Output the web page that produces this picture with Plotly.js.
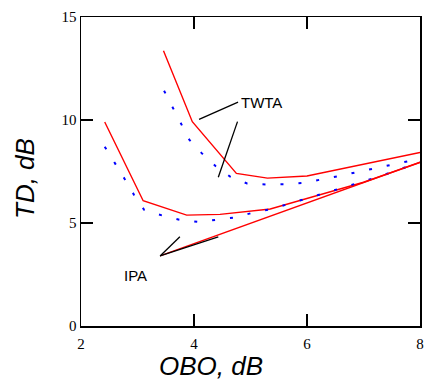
<!DOCTYPE html>
<html>
<head>
<meta charset="utf-8">
<script src="https://cdn.plot.ly/plotly-3.0.1.min.js"></script>
<style>html,body{margin:0;padding:0;background:#fff;}#chart{width:425px;height:383px;}</style>
</head>
<body>
<div id="chart"></div>
<script>
// TWTA, simulated (red solid polyline)
const twtaRedX = [3.46, 3.97, 4.75, 5.30, 6.00, 8.00];
const twtaRedY = [13.36, 9.92, 7.41, 7.18, 7.28, 8.42];
// TWTA, approximation (blue dashed)
const twtaBlueX = [3.47, 3.62, 3.77, 3.92, 4.14, 4.38, 4.64, 4.94, 5.27, 5.60, 5.92, 6.25, 6.57, 6.90, 7.22, 7.54, 7.86, 8.00];
const twtaBlueY = [11.42, 10.60, 9.83, 9.03, 8.38, 7.77, 7.25, 6.92, 6.87, 6.88, 6.94, 7.10, 7.28, 7.48, 7.67, 7.86, 8.04, 8.12];
// IPA, simulated (red solid polyline)
const ipaRedX = [2.42, 3.10, 3.87, 4.46, 5.35, 6.00, 6.50, 7.00, 8.00];
const ipaRedY = [9.90, 6.08, 5.38, 5.42, 5.68, 6.20, 6.60, 6.98, 7.94];
// IPA, approximation (blue dashed)
const ipaBlueX = [2.42, 2.60, 2.77, 2.94, 3.12, 3.43, 3.74, 4.08, 4.40, 4.73, 5.04, 5.38, 5.69, 5.99, 6.32, 6.61, 6.94, 7.30, 7.65, 8.00];
const ipaBlueY = [8.70, 7.93, 7.15, 6.36, 5.63, 5.37, 5.16, 5.05, 5.15, 5.27, 5.50, 5.68, 5.94, 6.18, 6.47, 6.71, 6.97, 7.28, 7.62, 7.95];
// lower bound TD = OBO (red straight line)
const boundX = [3.40, 8.00];
const boundY = [3.40, 7.95];
// tick labels
const xTicks = [2, 4, 6, 8];
const yTicks = [0, 5, 10, 15];
// axis titles
const xTitle = 'OBO, dB';
const yTitle = 'TD, dB';
// labels and pointer lines
const labelText = ["TWTA", "IPA"];
const labelX = [5.20, 2.97];
const labelY = [10.83, 2.43];
const pointerX0 = [4.09, 4.77, 3.40, 3.40];
const pointerY0 = [10.03, 9.92, 3.40, 3.40];
const pointerX1 = [4.78, 4.43, 4.43, 3.75];
const pointerY1 = [10.87, 7.22, 4.33, 4.33];

const red = {color: '#ff0000', width: 1.4};
const blue = {color: '#0000ff', width: 2, dash: '3px,15px'};
const traces = [
  {x: twtaRedX, y: twtaRedY, mode: 'lines', line: red},
  {x: twtaBlueX, y: twtaBlueY, mode: 'lines', line: blue},
  {x: ipaRedX, y: ipaRedY, mode: 'lines', line: red},
  {x: ipaBlueX, y: ipaBlueY, mode: 'lines', line: blue},
  {x: boundX, y: boundY, mode: 'lines', line: red}
];

const shapes = pointerX0.map((v, i) => ({
  type: 'line', xref: 'x', yref: 'y',
  x0: v, y0: pointerY0[i], x1: pointerX1[i], y1: pointerY1[i],
  line: {color: '#000', width: 1.3}
}));
const annotations = labelText.map((t, i) => ({
  text: t, x: labelX[i], y: labelY[i], xref: 'x', yref: 'y', showarrow: false,
  font: {family: "Liberation Sans", size: 15, color: '#000'}
}));
const titleFont = {family: "Liberation Sans", size: 26, color: '#000', style: 'italic'};
annotations.push({
  text: xTitle, xref: 'paper', yref: 'paper', x: 0.383, y: -0.129,
  xanchor: 'center', yanchor: 'middle', showarrow: false, font: titleFont
});
annotations.push({
  text: yTitle, xref: 'paper', yref: 'paper', x: -0.165, y: 0.476, textangle: -90,
  xanchor: 'center', yanchor: 'middle', showarrow: false, font: titleFont
});

const tickFont = {family: "Liberation Serif", size: 15, color: '#000'};

const layout = {
  width: 425, height: 383,
  margin: {l: 81, r: 5, t: 17, b: 57},
  paper_bgcolor: '#fff', plot_bgcolor: '#fff',
  showlegend: false,
  xaxis: {
    range: [2, 8], tickvals: xTicks, ticktext: xTicks.map(String),
    showgrid: false, zeroline: false, showline: true, mirror: 'ticks',
    linecolor: '#000', linewidth: 1.5, ticks: 'inside', ticklen: 12, tickwidth: 1.5, tickcolor: '#000',
    tickfont: tickFont, ticklabelstandoff: 3
  },
  yaxis: {
    range: [0, 15], tickvals: yTicks, ticktext: yTicks.map(String),
    showgrid: false, zeroline: false, showline: true, mirror: 'ticks',
    linecolor: '#000', linewidth: 1.5, ticks: 'inside', ticklen: 12, tickwidth: 1.5, tickcolor: '#000',
    tickfont: tickFont
  },
  shapes: shapes,
  annotations: annotations
};

Plotly.newPlot('chart', traces, layout, {staticPlot: true, displayModeBar: false});
</script>
</body>
</html>
